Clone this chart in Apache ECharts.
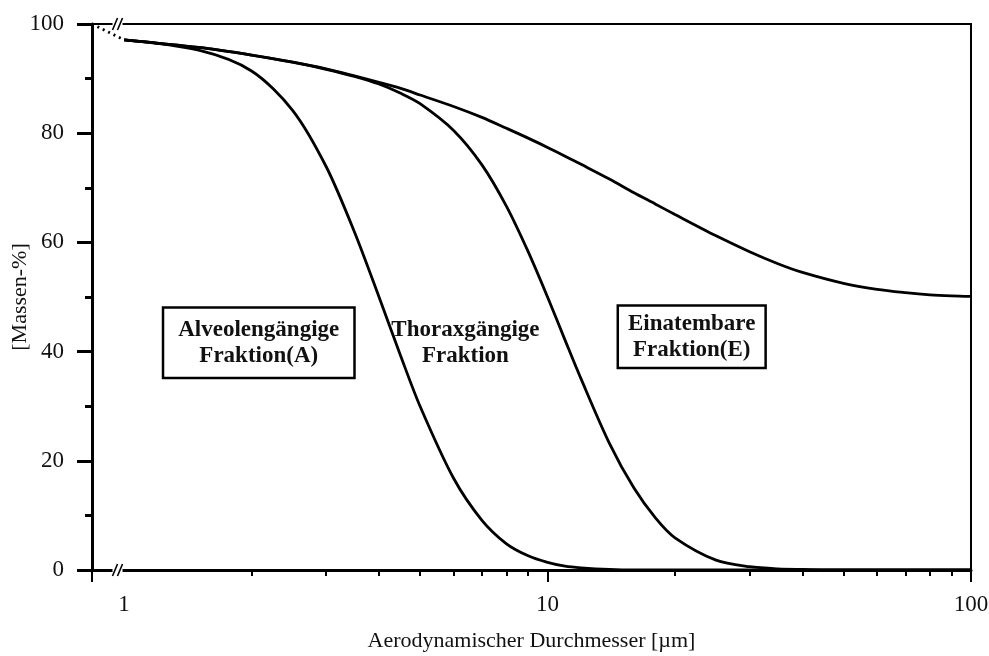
<!DOCTYPE html>
<html>
<head>
<meta charset="utf-8">
<script src="https://cdn.jsdelivr.net/npm/echarts@6/dist/echarts.min.js"></script>
<style>
  html, body { margin: 0; padding: 0; background: #fff; }
  #chart { width: 989px; height: 656px; }
</style>
</head>
<body>
<div id="chart"></div>
<script>
// aerodynamic diameter in µm
const diameters = [1, 1.5, 2, 2.5, 3, 3.5, 4, 4.5, 5, 6, 7, 8, 9, 10, 11, 12, 14, 16, 18, 20, 25, 30, 35, 40, 50, 60, 70, 80, 90, 100];
// mass-% of each fraction
const inhalable = [97.1, 95.7, 94.3, 93.0, 91.8, 90.5, 89.3, 88.2, 87.0, 84.9, 82.9, 80.9, 79.1, 77.4, 75.8, 74.3, 71.6, 69.1, 67.0, 65.1, 61.2, 58.3, 56.1, 54.5, 52.5, 51.4, 50.8, 50.4, 50.2, 50.1];
const thoracic = [97.1, 95.7, 94.3, 93.0, 91.7, 90.4, 89.0, 87.3, 85.4, 80.5, 74.2, 66.6, 58.3, 50.0, 42.1, 35.0, 23.2, 15.0, 9.5, 5.9, 1.8, 0.6, 0.2, 0.1, 0, 0, 0, 0, 0, 0];
const respirable = [97.1, 95.2, 91.4, 84.2, 73.9, 61.9, 50.0, 39.2, 30.0, 16.8, 9.1, 4.8, 2.6, 1.4, 0.7, 0.4, 0.1, 0, 0, 0, 0, 0, 0, 0, 0, 0, 0, 0, 0, 0];
// dotted extension towards the axis corner
const dottedD = [0.84, 1];
const dottedY = [100, 97.1];

const xMajor = [1, 10, 100];
const xMinor = [2, 3, 4, 5, 6, 7, 8, 9, 20, 30, 40, 50, 60, 70, 80, 90];
const xMinD = 0.84;
const breakD = 0.965;

const serif = "'Liberation Serif', 'DejaVu Serif', serif";
const lg = Math.log10;
const xMin = lg(xMinD);

function pts(xs, ys) {
  return xs.map((d, i) => [lg(d), ys[i]]);
}

function curve(name, values) {
  return {
    name: name,
    type: "line",
    data: pts(diameters, values),
    showSymbol: false,
    smooth: 0.3,
    lineStyle: { color: "#000", width: 2.8 },
    z: 3,
  };
}

const chart = echarts.init(document.getElementById("chart"));

chart.setOption({
  backgroundColor: "#fff",
  animation: false,
  grid: {
    left: 92, right: 18, top: 24, bottom: 86,
    outerBoundsMode: "none",
    show: true, borderColor: "#000", borderWidth: 2,
  },
  xAxis: [
    {
      type: "value",
      min: xMin, max: 2,
      position: "bottom",
      axisLine: { onZero: false, lineStyle: { color: "#000", width: 3 } },
      axisTick: {
        customValues: [xMin, lg(10), lg(100)],
        length: 12,
        lineStyle: { color: "#000", width: 2 },
      },
      axisLabel: {
        customValues: xMajor.map(lg),
        formatter: (v) => String(Math.round(Math.pow(10, v))),
        fontFamily: serif, fontSize: 23, color: "#111", margin: 23,
      },
      splitLine: { show: false },
      name: "Aerodynamischer Durchmesser [µm]",
      nameLocation: "middle",
      nameGap: 60,
      nameTextStyle: { fontFamily: serif, fontSize: 22, color: "#111" },
    },
    {
      type: "value",
      min: xMin, max: 2,
      position: "bottom",
      axisLine: { show: false, onZero: false },
      axisTick: {
        customValues: xMinor.map(lg),
        length: 6,
        lineStyle: { color: "#000", width: 2 },
      },
      axisLabel: { show: false },
      splitLine: { show: false },
    },
  ],
  yAxis: {
    type: "value",
    min: 0, max: 100, interval: 20,
    axisLine: { show: true, onZero: false, lineStyle: { color: "#000", width: 3 } },
    axisTick: { show: true, length: 15, lineStyle: { color: "#000", width: 3 } },
    minorTick: { show: true, splitNumber: 2, length: 7, lineStyle: { color: "#000", width: 3 } },
    axisLabel: { fontFamily: serif, fontSize: 23, color: "#111", margin: 28 },
    splitLine: { show: false },
    name: "[Massen-%]",
    nameLocation: "middle",
    nameGap: 72,
    nameMoveOverlap: false,
    nameTextStyle: { fontFamily: serif, fontSize: 22, color: "#111", verticalAlign: "middle" },
  },
  series: [
    curve("Einatembare Fraktion", inhalable),
    curve("Thoraxgängige Fraktion", thoracic),
    curve("Alveolengängige Fraktion", respirable),
    {
      type: "line",
      data: pts(dottedD, dottedY),
      showSymbol: false,
      lineStyle: { color: "#000", width: 2.8, type: [2, 4] },
    },
  ],
});

// axis break marks and fraction labels, anchored to data coordinates
function px(d, y) {
  return chart.convertToPixel({ xAxisIndex: 0, yAxisIndex: 0 }, [lg(d), y]);
}

const graphics = [];
[0, 100].forEach((y) => {
  const p = px(breakD, y);
  graphics.push({
    type: "rect",
    shape: { x: p[0] - 5, y: p[1] - 4, width: 10, height: 8 },
    style: { fill: "#fff" },
    z: 100,
  });
  [-2.5, 2.5].forEach((off) => {
    graphics.push({
      type: "line",
      shape: { x1: p[0] + off - 2.5, y1: p[1] + 6, x2: p[0] + off + 2.5, y2: p[1] - 6 },
      style: { stroke: "#000", lineWidth: 1.6 },
      z: 101,
    });
  });
});

const labelStyle = {
  font: "bold 23px " + serif,
  fill: "#111",
  align: "center",
  verticalAlign: "middle",
  lineHeight: 26,
};

const boxes = [
  { text: "Alveolengängige\nFraktion(A)", d: 2.08, y: 41.6, box: true, pad: [8, 14] },
  { text: "Thoraxgängige\nFraktion", d: 6.4, y: 41.6, box: false, pad: [0, 0] },
  { text: "Einatembare\nFraktion(E)", d: 21.9, y: 42.7, box: true, pad: [4, 9] },
];
boxes.forEach((b) => {
  const p = px(b.d, b.y);
  const style = Object.assign({ text: b.text, x: p[0], y: p[1], padding: b.pad }, labelStyle);
  if (b.box) {
    style.borderColor = "#000";
    style.borderWidth = 2.5;
    style.backgroundColor = "#fff";
  }
  graphics.push({ type: "text", style: style, z: 50 });
});

chart.setOption({ graphic: graphics });
</script>
</body>
</html>
